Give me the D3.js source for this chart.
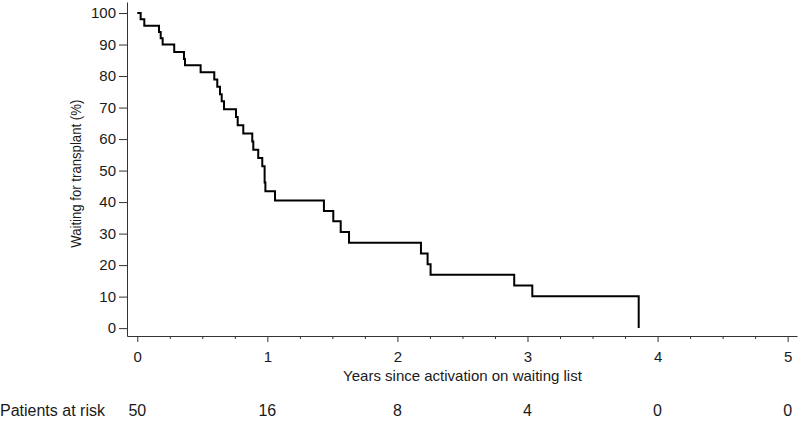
<!DOCTYPE html>
<html>
<head>
<meta charset="utf-8">
<script src="https://cdn.jsdelivr.net/npm/d3@7"></script>
<style>
  html, body { margin: 0; padding: 0; background: #fff; }
  svg text { font-family: "Liberation Sans", Arial, sans-serif; fill: #1a1a1a; }
</style>
</head>
<body>
<svg id="chart" width="800" height="425"></svg>
<script>
// Kaplan-Meier step curve: event times (years) and survival (%) after each step
const stepTimes = [0, 0.026, 0.054, 0.167, 0.18, 0.195, 0.284, 0.359, 0.367, 0.487,
  0.592, 0.615, 0.636, 0.649, 0.667, 0.759, 0.772, 0.815, 0.884, 0.892,
  0.930, 0.961, 0.979, 0.985, 1.059, 1.435, 1.507, 1.564, 1.628, 2.181,
  2.232, 2.255, 2.898, 3.037, 3.855];
const stepValues = [100, 98, 96, 94, 92, 90, 87.6, 85.4, 83.4, 81.2,
  78.9, 76.6, 74.2, 72.0, 69.5, 67.0, 64.4, 61.8, 59.2, 56.6,
  54.0, 51.4, 46.2, 43.4, 40.5, 37.2, 33.9, 30.5, 27.1, 23.7,
  20.3, 16.9, 13.5, 10.1, 0];

const xTicks = [0, 1, 2, 3, 4, 5];
const xMinorTicks = [0.25, 0.5, 0.75, 1.25, 1.5, 1.75, 2.25, 2.5, 2.75, 3.25, 3.5, 3.75, 4.25, 4.5, 4.75];
const yTicks = [0, 10, 20, 30, 40, 50, 60, 70, 80, 90, 100];
const riskTimes = [0, 1, 2, 3, 4, 5];
const riskCounts = [50, 16, 8, 4, 0, 0];

const xTitle = "Years since activation on waiting list";
const yTitle = "Waiting for transplant (%)";
const riskTitle = "Patients at risk";

const svg = d3.select("#chart");

const x = d3.scaleLinear().domain([-0.079, 5.072]).range([127, 797]);
const y = d3.scaleLinear().domain([-2.5, 103.5]).range([336, 2]);

// X axis (major)
const gx = svg.append("g").attr("transform", `translate(0,${y(-2.5)})`)
  .call(d3.axisBottom(x).tickValues(xTicks).tickFormat(d3.format("d"))
    .tickSize(6).tickSizeOuter(0).tickPadding(9));
gx.selectAll("text").style("font-size", "15px");
// minor ticks
svg.append("g").attr("transform", `translate(0,${y(-2.5)})`)
  .call(d3.axisBottom(x).tickValues(xMinorTicks).tickFormat("").tickSize(3).tickSizeOuter(0))
  .call(g => g.select(".domain").remove());

// Y axis
const gy = svg.append("g").attr("transform", `translate(${x(-0.079)},0)`)
  .call(d3.axisLeft(y).tickValues(yTicks).tickSize(8).tickSizeOuter(0).tickPadding(3));
gy.selectAll("text").style("font-size", "15px");

svg.selectAll(".domain, .tick line").attr("stroke", "#333").attr("stroke-width", 1);

// Curve
const line = d3.line().x(d => x(d[0])).y(d => y(d[1])).curve(d3.curveStepAfter);
svg.append("path")
  .datum(stepTimes.map((t, i) => [t, stepValues[i]]))
  .attr("fill", "none").attr("stroke", "#000").attr("stroke-width", 2)
  .attr("d", line);

// Titles
svg.append("text").attr("x", x(2.5)).attr("y", 381)
  .attr("text-anchor", "middle").style("font-size", "15px").text(xTitle);
svg.append("text")
  .attr("transform", `translate(81,${y(49)}) rotate(-90)`)
  .attr("text-anchor", "middle").style("font-size", "15px")
  .attr("textLength", 148).attr("lengthAdjust", "spacingAndGlyphs")
  .text(yTitle);

// Risk table
svg.append("text").attr("x", 0).attr("y", 416).style("font-size", "16px").text(riskTitle);
svg.selectAll("text.risk").data(riskTimes).enter().append("text")
  .attr("class", "risk").attr("x", d => x(d)).attr("y", 416)
  .attr("text-anchor", "middle").style("font-size", "16px")
  .text((d, i) => riskCounts[i]);
</script>
</body>
</html>
